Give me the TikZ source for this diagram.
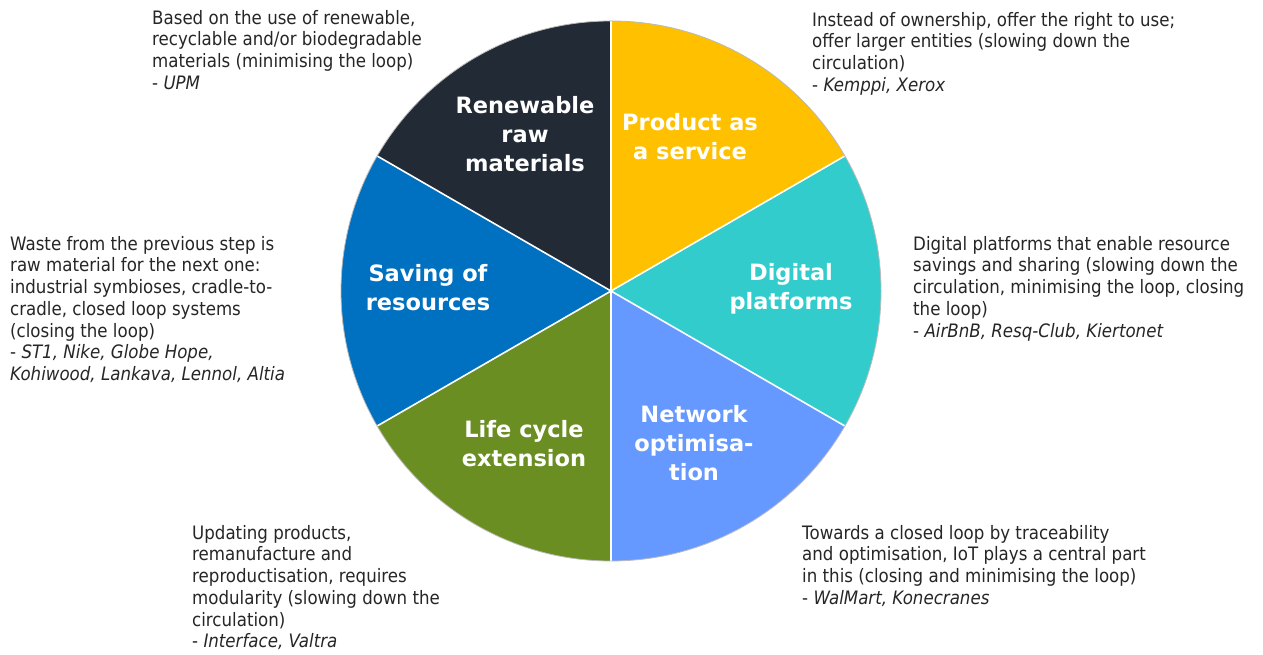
\documentclass[tikz,border=0pt]{standalone}
\usepackage{fontspec}
\setmainfont{DejaVu Sans}[FakeStretch=0.9]
\newfontfamily\labelfont{DejaVu Sans}

\definecolor{rawdark}{HTML}{222A35}
\definecolor{serviceyellow}{HTML}{FFC000}
\definecolor{platformteal}{HTML}{33CCCC}
\definecolor{networkblue}{HTML}{6699FF}
\definecolor{lifeolive}{HTML}{6B8E23}
\definecolor{savingblue}{HTML}{0070C0}
\definecolor{desctext}{HTML}{262626}

\begin{document}
\begin{tikzpicture}[x=1pt,y=1pt,
  sector/.style={font=\labelfont\bfseries\fontsize{22.5}{29}\selectfont, text=white, align=center, inner sep=0pt},
  desc/.style={font=\fontsize{18.5}{21.7}\selectfont, text=desctext, align=left, anchor=north west, inner sep=0pt}]
  \useasboundingbox (0,0) rectangle (1263,655);
  \fill[white] (0,0) rectangle (1263,655);

  % the six sectors of the wheel
  \coordinate (c) at (611,364);
  \fill[serviceyellow] (c) -- +(30:270) arc[start angle=30, end angle=90, radius=270] -- cycle;
  \fill[rawdark] (c) -- +(90:270) arc[start angle=90, end angle=150, radius=270] -- cycle;
  \fill[savingblue] (c) -- +(150:270) arc[start angle=150, end angle=210, radius=270] -- cycle;
  \fill[lifeolive] (c) -- +(210:270) arc[start angle=210, end angle=270, radius=270] -- cycle;
  \fill[networkblue] (c) -- +(270:270) arc[start angle=270, end angle=330, radius=270] -- cycle;
  \fill[platformteal] (c) -- +(-30:270) arc[start angle=-30, end angle=30, radius=270] -- cycle;
  \foreach \a in {30,90,...,330}
    \draw[white, line width=1.6pt] (c) -- +(\a:270);
  \draw[gray!55, line width=0.8pt] (c) circle (270);

  % sector titles
  \node[sector] (raw) at (525,521) {Renewable\\raw\\materials};
  \node[sector] (service) at (690,518) {Product as\\a service};
  \node[sector] (platforms) at (791,366) {Digital\\platforms};
  \node[sector] (network) at (694,212) {Network\\optimisa-\\tion};
  \node[sector] (life) at (524,211) {Life cycle\\extension};
  \node[sector] (saving) at (428,367) {Saving of\\resources};

  % descriptions around the wheel
  \node[desc] (rawtxt) at (152,645) {Based on the use of renewable,\\recyclable and/or biodegradable\\materials (minimising the loop)\\- \textit{UPM}};
  \node[desc] (servicetxt) at (812,643) {Instead of ownership, offer the right to use;\\offer larger entities (slowing down the\\circulation)\\- \textit{Kemppi, Xerox}};
  \node[desc] (platformstxt) at (913,419) {Digital platforms that enable resource\\savings and sharing (slowing down the\\circulation, minimising the loop, closing\\the loop)\\- \textit{AirBnB, Resq-Club, Kiertonet}};
  \node[desc] (networktxt) at (802,130) {Towards a closed loop by traceability\\and optimisation, IoT plays a central part\\in this (closing and minimising the loop)\\- \textit{WalMart, Konecranes}};
  \node[desc] (lifetxt) at (192,130) {Updating products,\\remanufacture and\\reproductisation, requires\\modularity (slowing down the\\circulation)\\- \textit{Interface, Valtra}};
  \node[desc] (savingtxt) at (10,419) {Waste from the previous step is\\raw material for the next one:\\industrial symbioses, cradle-to-\\cradle, closed loop systems\\(closing the loop)\\- \textit{ST1, Nike, Globe Hope,}\\\textit{Kohiwood, Lankava, Lennol, Altia}};
\end{tikzpicture}
\end{document}
